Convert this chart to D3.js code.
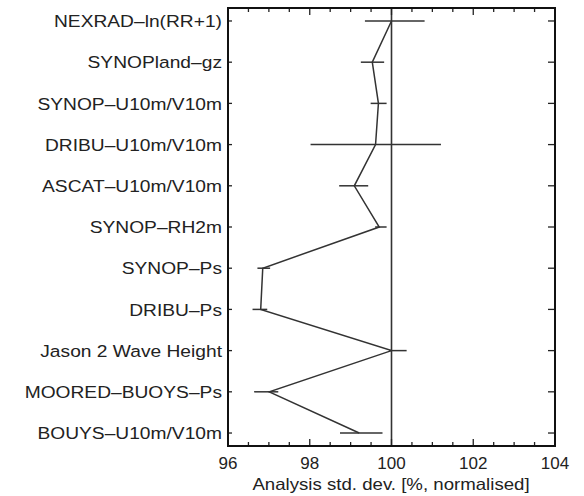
<!DOCTYPE html>
<html><head><meta charset="utf-8">
<script src="https://cdn.jsdelivr.net/npm/d3@7"></script>
<style>
body{margin:0;background:#fff;}
text{font-family:"Liberation Sans",Arial,Helvetica,sans-serif;fill:#222;}
</style></head>
<body>
<svg id="chart" width="584" height="496"></svg>
<script>
const categories = ["NEXRAD\u2013ln(RR+1)","SYNOPland\u2013gz","SYNOP\u2013U10m/V10m","DRIBU\u2013U10m/V10m","ASCAT\u2013U10m/V10m","SYNOP\u2013RH2m","SYNOP\u2013Ps","DRIBU\u2013Ps","Jason 2 Wave Height","MOORED\u2013BUOYS\u2013Ps","BOUYS\u2013U10m/V10m"];
const values = [100.0, 99.53, 99.68, 99.61, 99.09, 99.7, 96.85, 96.80, 100.0, 97.01, 99.21];
const errLow = [99.35, 99.25, 99.49, 98.02, 98.72, 99.6, 96.72, 96.60, 99.95, 96.64, 98.74];
const errHigh = [100.81, 99.82, 99.88, 101.21, 99.43, 99.88, 97.03, 96.96, 100.37, 97.23, 99.78];
const xMajorTicks = [96, 98, 100, 102, 104];
const xMinorTicks = d3.range(96, 104.01, 0.5);
const refValue = 100;
const xTitle = "Analysis std. dev. [%, normalised]";

const L = 228, R = 555, T = 8, B = 446;
const svg = d3.select("#chart");
const x = d3.scaleLinear().domain([96, 104]).range([L, R]);
const y = d3.scalePoint().domain(categories).range([T, B]).padding(0.315);
const ink = "#222";
const stretch = 1.13;

// reference line
svg.append("line").attr("x1", x(refValue)).attr("x2", x(refValue)).attr("y1", T).attr("y2", B)
  .attr("stroke", "#333").attr("stroke-width", 1.6);

// x ticks (bottom and top, inward)
const g = svg.append("g");
xMinorTicks.forEach(v => {
  const major = xMajorTicks.some(m => Math.abs(m - v) < 1e-9);
  const len = major ? 7 : 4;
  g.append("line").attr("x1", x(v)).attr("x2", x(v)).attr("y1", B).attr("y2", B - len).attr("stroke", ink).attr("stroke-width", 1.3);
  g.append("line").attr("x1", x(v)).attr("x2", x(v)).attr("y1", T).attr("y2", T + len).attr("stroke", ink).attr("stroke-width", 1.3);
});
// y ticks
categories.forEach(c => {
  g.append("line").attr("x1", L).attr("x2", L + 4).attr("y1", y(c)).attr("y2", y(c)).attr("stroke", ink).attr("stroke-width", 1.3);
  g.append("line").attr("x1", R).attr("x2", R - 7).attr("y1", y(c)).attr("y2", y(c)).attr("stroke", ink).attr("stroke-width", 1.3);
});
// frame
svg.append("rect").attr("x", L).attr("y", T).attr("width", R - L).attr("height", B - T)
  .attr("fill", "none").attr("stroke", "#111").attr("stroke-width", 2);

// x tick labels
xMajorTicks.forEach(v => {
  svg.append("text").attr("x", x(v)).attr("y", 469).attr("text-anchor", "middle")
    .attr("font-size", 17).text(v);
});
svg.append("text").attr("transform", `translate(391,490) scale(${stretch},1)`).attr("text-anchor", "middle")
  .attr("font-size", 16.5).text(xTitle);

// y labels
categories.forEach(c => {
  svg.append("text").attr("transform", `translate(${L - 6},${y(c)}) scale(${stretch},1)`)
    .attr("dy", "0.36em").attr("text-anchor", "end")
    .attr("font-size", 17).text(c);
});

// error bars
categories.forEach((c, i) => {
  svg.append("line").attr("x1", x(errLow[i])).attr("x2", x(errHigh[i])).attr("y1", y(c)).attr("y2", y(c))
    .attr("stroke", "#333").attr("stroke-width", 1.5);
});
// line
const line = d3.line().x((d, i) => x(d)).y((d, i) => y(categories[i]));
svg.append("path").attr("d", line(values)).attr("fill", "none").attr("stroke", "#333").attr("stroke-width", 1.5);
</script>
</body></html>
